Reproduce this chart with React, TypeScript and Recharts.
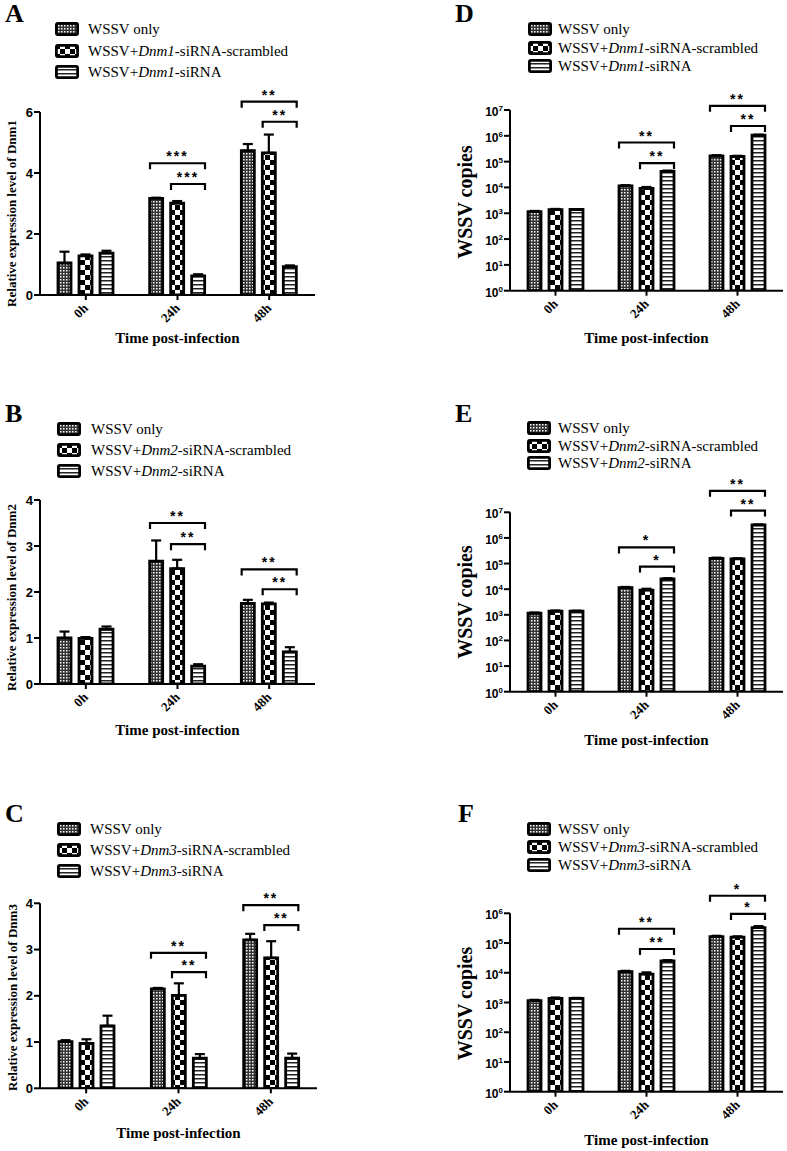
import React from "react";
import { BarChart, Bar, XAxis, YAxis, ErrorBar, ReferenceLine } from "recharts";

const SERIF = '"Liberation Serif", "Times New Roman", serif';
const SANS = '"Liberation Sans", Arial, sans-serif';

const TIMES = ["0h", "24h", "48h"];

// A - Dnm1 relative expression
const A_ONLY = [1.05, 3.17, 4.73];
const A_ONLY_ERR = [0.37, 0.02, 0.22];
const A_SCR = [1.28, 3.01, 4.66];
const A_SCR_ERR = [0.05, 0.07, 0.6];
const A_SI = [1.37, 0.63, 0.93];
const A_SI_ERR = [0.08, 0.05, 0.04];

// B - Dnm2 relative expression
const B_ONLY = [1.0, 2.67, 1.75];
const B_ONLY_ERR = [0.14, 0.45, 0.08];
const B_SCR = [0.99, 2.51, 1.74];
const B_SCR_ERR = [0.03, 0.19, 0.03];
const B_SI = [1.19, 0.39, 0.7];
const B_SI_ERR = [0.06, 0.04, 0.1];

// C - Dnm3 relative expression
const C_ONLY = [1.01, 2.15, 3.21];
const C_ONLY_ERR = [0.03, 0.02, 0.13];
const C_SCR = [0.97, 2.01, 2.82];
const C_SCR_ERR = [0.09, 0.26, 0.36];
const C_SI = [1.35, 0.65, 0.65];
const C_SI_ERR = [0.22, 0.09, 0.1];

// D - WSSV copies, Dnm1 knockdown
const D_ONLY = [1150, 11500, 165000];
const D_ONLY_ERR = [80, 700, 12000];
const D_SCR = [1380, 9200, 158000];
const D_SCR_ERR = [90, 1200, 10000];
const D_SI = [1400, 42000, 1050000];
const D_SI_ERR = [50, 3000, 60000];

// E - WSSV copies, Dnm2 knockdown
const E_ONLY = [1150, 11500, 160000];
const E_ONLY_ERR = [80, 700, 10000];
const E_SCR = [1380, 9200, 152000];
const E_SCR_ERR = [90, 1200, 9000];
const E_SI = [1400, 25000, 3200000];
const E_SI_ERR = [50, 1800, 150000];

// F - WSSV copies, Dnm3 knockdown
const F_ONLY = [1150, 11000, 165000];
const F_ONLY_ERR = [80, 600, 10000];
const F_SCR = [1380, 9000, 158000];
const F_SCR_ERR = [90, 1300, 10000];
const F_SI = [1380, 25000, 330000];
const F_SI_ERR = [50, 1500, 40000];

type Sig = { time: string; from: number; level: number; stars: string };

// significance brackets (from = first bar of the pair, always ending at siRNA bar)
const A_SIG: Sig[] = [
  { time: "24h", from: 0, level: 4.32, stars: "***" },
  { time: "24h", from: 1, level: 3.64, stars: "***" },
  { time: "48h", from: 0, level: 6.34, stars: "**" },
  { time: "48h", from: 1, level: 5.68, stars: "**" },
];
const B_SIG: Sig[] = [
  { time: "24h", from: 0, level: 3.5, stars: "**" },
  { time: "24h", from: 1, level: 3.04, stars: "**" },
  { time: "48h", from: 0, level: 2.49, stars: "**" },
  { time: "48h", from: 1, level: 2.06, stars: "**" },
];
const C_SIG: Sig[] = [
  { time: "24h", from: 0, level: 2.93, stars: "**" },
  { time: "24h", from: 1, level: 2.51, stars: "**" },
  { time: "48h", from: 0, level: 3.96, stars: "**" },
  { time: "48h", from: 1, level: 3.53, stars: "**" },
];
const D_SIG: Sig[] = [
  { time: "24h", from: 0, level: 550000, stars: "**" },
  { time: "24h", from: 1, level: 87000, stars: "**" },
  { time: "48h", from: 0, level: 14500000, stars: "**" },
  { time: "48h", from: 1, level: 2400000, stars: "**" },
];
const E_SIG: Sig[] = [
  { time: "24h", from: 0, level: 427000, stars: "*" },
  { time: "24h", from: 1, level: 76000, stars: "*" },
  { time: "48h", from: 0, level: 69000000, stars: "**" },
  { time: "48h", from: 1, level: 11700000, stars: "**" },
];
const F_SIG: Sig[] = [
  { time: "24h", from: 0, level: 302000, stars: "**" },
  { time: "24h", from: 1, level: 63000, stars: "**" },
  { time: "48h", from: 0, level: 3900000, stars: "*" },
  { time: "48h", from: 1, level: 955000, stars: "*" },
];

const LIN4_TICKS = [0, 1, 2, 3, 4];
const LIN6_TICKS = [0, 2, 4, 6];
const LOG7_TICKS = [1, 10, 100, 1000, 10000, 100000, 1000000, 10000000];
const LOG6_TICKS = [1, 10, 100, 1000, 10000, 100000, 1000000];

const BAR = 13;
const GAP = 8;
const BAR_OFFSETS = [-(BAR + GAP), 0, BAR + GAP];
const XH = 30;
const YW = 30;

const SERIES = [
  { key: "only", err: "onlyErr", fill: "url(#pat-dots)" },
  { key: "scr", err: "scrErr", fill: "url(#pat-check)" },
  { key: "si", err: "siErr", fill: "url(#pat-stripe)" },
];

function makeRows(only: number[], onlyErr: number[], scr: number[], scrErr: number[], si: number[], siErr: number[]) {
  return TIMES.map((time, i) => ({
    time,
    only: only[i],
    onlyErr: [0, onlyErr[i]],
    scr: scr[i],
    scrErr: [0, scrErr[i]],
    si: si[i],
    siErr: [0, siErr[i]],
  }));
}

const TimeTick = (props: any) => {
  const { x, y, payload } = props;
  const ax = x + 3;
  const ay = y + 7;
  return (
    <text x={ax} y={ay} transform={`rotate(-45 ${ax} ${ay})`} textAnchor="end" fontFamily={SERIF} fontWeight="bold" fontSize={13} fill="#000">
      {payload.value}
    </text>
  );
};

const LogTick = (props: any) => {
  const { x, y, payload } = props;
  const exp = Math.round(Math.log10(payload.value));
  return (
    <text x={x} y={y + 6} textAnchor="end" fontFamily={SANS} fontWeight="bold" fontSize={12} fill="#000">
      10<tspan dy={-5} fontSize={8}>{exp}</tspan>
    </text>
  );
};

function bracketShape(from: number, stars: string) {
  return (props: any) => {
    const { x1, y1 } = props;
    const l = x1 + BAR_OFFSETS[from] - 6.5;
    const r = x1 + BAR_OFFSETS[2] + 6.5;
    return (
      <g>
        <path d={`M${l},${y1 + 6}V${y1}H${r}V${y1 + 6}`} fill="none" stroke="#000" strokeWidth={2.2} />
        <text x={(l + r) / 2} y={y1 - 2} textAnchor="middle" fontFamily={SANS} fontWeight="bold" fontSize={14} letterSpacing={2} fill="#000">
          {stars}
        </text>
      </g>
    );
  };
}

interface PanelProps {
  letter: string;
  gene: string;
  left: number;
  top: number;
  width: number;
  height: number;
  plot: { x0: number; x1: number; y0: number; y1: number };
  rows: any[];
  sig: Sig[];
  log?: boolean;
  domain: [number, number];
  ticks: number[];
  yTitle: string;
  yTitleX: number;
  yTitleY: number;
  yTitleSize: number;
  xTitleDy: number;
  legend: { x: number; y: number[]; textX: number };
  letterX: number;
  letterY: number;
}

function Panel(p: PanelProps) {
  const { plot } = p;
  const margin = {
    top: plot.y0,
    right: p.width - plot.x1,
    bottom: p.height - plot.y1 - XH,
    left: plot.x0 - YW,
  };
  const cx = (plot.x0 + plot.x1) / 2;
  const labels = [
    <>WSSV only</>,
    <>
      WSSV+<i>{p.gene}</i>-siRNA-scrambled
    </>,
    <>
      WSSV+<i>{p.gene}</i>-siRNA
    </>,
  ];

  return (
    <div style={{ position: "absolute", left: p.left, top: p.top, width: p.width, height: p.height }}>
      <BarChart width={p.width} height={p.height} data={p.rows} margin={margin} barSize={BAR} barGap={GAP}>
        <XAxis
          dataKey="time"
          type="category"
          interval={0}
          height={XH}
          tickSize={5}
          tickMargin={2}
          axisLine={{ stroke: "#000", strokeWidth: 2 }}
          tickLine={{ stroke: "#000", strokeWidth: 2 }}
          tick={TimeTick}
          label={{
            content: () => (
              <text x={cx} y={plot.y1 + p.xTitleDy} textAnchor="middle" fontFamily={SERIF} fontWeight="bold" fontSize={15} fill="#000">
                Time post-infection
              </text>
            ),
          }}
        />
        <YAxis
          type="number"
          width={YW}
          scale={p.log ? "log" : "linear"}
          domain={p.domain}
          ticks={p.ticks}
          allowDataOverflow
          interval={0}
          tickSize={6}
          tickMargin={1}
          axisLine={{ stroke: "#000", strokeWidth: 2 }}
          tickLine={{ stroke: "#000", strokeWidth: 2 }}
          tick={p.log ? LogTick : { fill: "#000", fontFamily: SANS, fontWeight: "bold", fontSize: 13 }}
          label={{
            content: () => (
              <text
                x={p.yTitleX}
                y={p.yTitleY}
                transform={`rotate(-90 ${p.yTitleX} ${p.yTitleY})`}
                textAnchor="middle"
                fontFamily={SERIF}
                fontWeight="bold"
                fontSize={p.yTitleSize}
                fill="#000"
              >
                {p.yTitle}
              </text>
            ),
          }}
        />
        {SERIES.map((s) => (
          <Bar key={s.key} dataKey={s.key} fill={s.fill} stroke="#000" strokeWidth={2.8} isAnimationActive={false}>
            <ErrorBar dataKey={s.err} width={5} strokeWidth={2.2} stroke="#000" direction="y" isAnimationActive={false} />
          </Bar>
        ))}
        {p.sig.map((s, i) => (
          <ReferenceLine
            key={i}
            segment={[
              { x: s.time, y: s.level },
              { x: s.time, y: s.level },
            ]}
            ifOverflow="visible"
            shape={bracketShape(s.from, s.stars)}
          />
        ))}
      </BarChart>

      <div
        style={{
          position: "absolute",
          left: p.letterX,
          top: p.letterY - 21.8,
          fontFamily: SERIF,
          fontWeight: "bold",
          fontSize: 26,
          lineHeight: "26px",
          color: "#000",
        }}
      >
        {p.letter}
      </div>

      {SERIES.map((s, i) => (
        <div
          key={s.key}
          style={{
            position: "absolute",
            left: p.legend.x,
            top: p.legend.y[i] - 7,
            height: 14,
            display: "flex",
            alignItems: "center",
            whiteSpace: "nowrap",
            fontFamily: SERIF,
            fontSize: 15,
            lineHeight: "14px",
            color: "#000",
          }}
        >
          <svg width={24} height={14} style={{ display: "block" }}>
            <rect x={1.4} y={1.4} width={21.2} height={11.2} rx={1.5} fill={s.fill} stroke="#000" strokeWidth={2.8} />
          </svg>
          <span style={{ marginLeft: p.legend.textX - p.legend.x - 24 }}>{labels[i]}</span>
        </div>
      ))}
    </div>
  );
}

export default function App() {
  return (
    <div style={{ position: "absolute", left: 0, top: 0, width: 787, height: 1151, background: "#fff", overflow: "hidden" }}>
      <svg width={0} height={0} style={{ position: "absolute" }}>
        <defs>
          <pattern id="pat-dots" width={3} height={3} patternUnits="userSpaceOnUse">
            <rect width={3} height={3} fill="#333" />
            <rect x={0} y={0} width={1.5} height={1.5} fill="#fff" />
          </pattern>
          <pattern id="pat-check" width={10} height={10} patternUnits="userSpaceOnUse">
            <rect width={10} height={10} fill="#fff" />
            <rect x={0} y={0} width={5} height={5} fill="#000" />
            <rect x={5} y={5} width={5} height={5} fill="#000" />
          </pattern>
          <pattern id="pat-stripe" width={4} height={4} patternUnits="userSpaceOnUse">
            <rect width={4} height={4} fill="#fff" />
            <rect x={0} y={0} width={4} height={1.5} fill="#222" />
          </pattern>
        </defs>
      </svg>

      <Panel
        letter="A"
        gene="Dnm1"
        left={0}
        top={0}
        width={390}
        height={380}
        plot={{ x0: 40, x1: 315, y0: 112, y1: 295 }}
        rows={makeRows(A_ONLY, A_ONLY_ERR, A_SCR, A_SCR_ERR, A_SI, A_SI_ERR)}
        sig={A_SIG}
        domain={[0, 6]}
        ticks={LIN6_TICKS}
        yTitle="Relative expression level of Dnm1"
        yTitleX={16}
        yTitleY={213.5}
        yTitleSize={13}
        xTitleDy={48}
        legend={{ x: 55, y: [29, 50.5, 72], textX: 88 }}
        letterX={5}
        letterY={23}
      />
      <Panel
        letter="B"
        gene="Dnm2"
        left={0}
        top={380}
        width={390}
        height={390}
        plot={{ x0: 40, x1: 315, y0: 120, y1: 304 }}
        rows={makeRows(B_ONLY, B_ONLY_ERR, B_SCR, B_SCR_ERR, B_SI, B_SI_ERR)}
        sig={B_SIG}
        domain={[0, 4]}
        ticks={LIN4_TICKS}
        yTitle="Relative expression level of Dnm2"
        yTitleX={16}
        yTitleY={217.5}
        yTitleSize={13}
        xTitleDy={51}
        legend={{ x: 57, y: [49, 70, 91], textX: 91 }}
        letterX={5}
        letterY={43}
      />
      <Panel
        letter="C"
        gene="Dnm3"
        left={0}
        top={770}
        width={390}
        height={381}
        plot={{ x0: 40, x1: 317, y0: 133.3, y1: 318.3 }}
        rows={makeRows(C_ONLY, C_ONLY_ERR, C_SCR, C_SCR_ERR, C_SI, C_SI_ERR)}
        sig={C_SIG}
        domain={[0, 4]}
        ticks={LIN4_TICKS}
        yTitle="Relative expression level of Dnm3"
        yTitleX={17}
        yTitleY={227.5}
        yTitleSize={13}
        xTitleDy={50}
        legend={{ x: 57, y: [59, 80, 101], textX: 90 }}
        letterX={5}
        letterY={53}
      />
      <Panel
        letter="D"
        gene="Dnm1"
        left={390}
        top={0}
        width={397}
        height={380}
        plot={{ x0: 120, x1: 393, y0: 110, y1: 290.7 }}
        rows={makeRows(D_ONLY, D_ONLY_ERR, D_SCR, D_SCR_ERR, D_SI, D_SI_ERR)}
        sig={D_SIG}
        log
        domain={[1, 10000000]}
        ticks={LOG7_TICKS}
        yTitle="WSSV copies"
        yTitleX={82}
        yTitleY={202}
        yTitleSize={20}
        xTitleDy={52}
        legend={{ x: 138, y: [29, 48.3, 66], textX: 168 }}
        letterX={65}
        letterY={23}
      />
      <Panel
        letter="E"
        gene="Dnm2"
        left={390}
        top={380}
        width={397}
        height={390}
        plot={{ x0: 120, x1: 393, y0: 132.3, y1: 311.7 }}
        rows={makeRows(E_ONLY, E_ONLY_ERR, E_SCR, E_SCR_ERR, E_SI, E_SI_ERR)}
        sig={E_SIG}
        log
        domain={[1, 10000000]}
        ticks={LOG7_TICKS}
        yTitle="WSSV copies"
        yTitleX={82}
        yTitleY={222}
        yTitleSize={20}
        xTitleDy={53}
        legend={{ x: 137, y: [47.7, 65.7, 83.3], textX: 168 }}
        letterX={65}
        letterY={43}
      />
      <Panel
        letter="F"
        gene="Dnm3"
        left={390}
        top={770}
        width={397}
        height={381}
        plot={{ x0: 120, x1: 393, y0: 143.3, y1: 321.7 }}
        rows={makeRows(F_ONLY, F_ONLY_ERR, F_SCR, F_SCR_ERR, F_SI, F_SI_ERR)}
        sig={F_SIG}
        log
        domain={[1, 1000000]}
        ticks={LOG6_TICKS}
        yTitle="WSSV copies"
        yTitleX={82}
        yTitleY={233.5}
        yTitleSize={20}
        xTitleDy={53}
        legend={{ x: 137, y: [59, 77, 95], textX: 168 }}
        letterX={68}
        letterY={53}
      />
    </div>
  );
}
